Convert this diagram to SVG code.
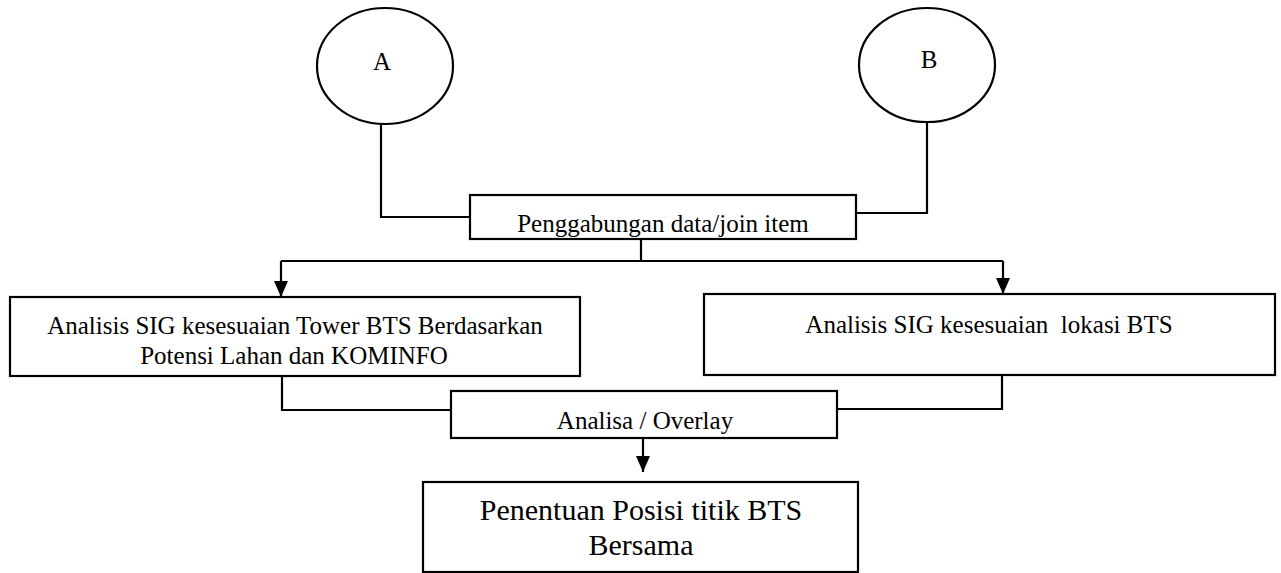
<svg xmlns="http://www.w3.org/2000/svg" width="1281" height="573" viewBox="0 0 1281 573">
<style>
.s{fill:#fff;stroke:#000;stroke-width:2.2}
.c{fill:none;stroke:#000;stroke-width:2.2}
.t{font-family:"Liberation Serif","Times New Roman",serif;fill:#000;text-anchor:middle;font-size:25px}
.b{font-size:30px}
</style>
<defs>
<marker id="ah" viewBox="0 0 16 14" refX="16" refY="7" markerWidth="16" markerHeight="14" orient="auto" markerUnits="userSpaceOnUse">
<path d="M0,0L16,7L0,14z" fill="#000"/>
</marker>
</defs>
<rect width="1281" height="573" fill="#fff"/>
<g id="connectors">
<polyline class="c" points="381,124 381,217 470,217"/>
<polyline class="c" points="927,122 927,213 856,213"/>
<line class="c" x1="641" y1="239" x2="641" y2="261"/>
<line class="c" x1="281" y1="261" x2="1003" y2="261"/>
<line class="c" x1="281" y1="261" x2="281" y2="297" marker-end="url(#ah)"/>
<line class="c" x1="1003" y1="261" x2="1003" y2="294" marker-end="url(#ah)"/>
<polyline class="c" points="282,376 282,410 451,410"/>
<polyline class="c" points="1002,375 1002,409 837,409"/>
<line class="c" x1="643" y1="438" x2="643" y2="472" marker-end="url(#ah)"/>
</g>
<g id="nodeA">
<ellipse class="s" cx="385" cy="66" rx="68" ry="58"/>
<text class="t" x="382" y="70" font-size="29">A</text>
</g>
<g id="nodeB">
<ellipse class="s" cx="927" cy="65" rx="68" ry="57"/>
<text class="t" x="929" y="68" font-size="29">B</text>
</g>
<g id="join">
<rect class="s" x="470" y="195" width="386" height="44"/>
<text class="t" x="663" y="232">Penggabungan data/join item</text>
</g>
<g id="sigLeft">
<rect class="s" x="10" y="297" width="570" height="79"/>
<text class="t" x="295" y="334">Analisis SIG kesesuaian Tower BTS Berdasarkan</text>
<text class="t" x="294" y="364">Potensi Lahan dan KOMINFO</text>
</g>
<g id="sigRight">
<rect class="s" x="704" y="294" width="571" height="81"/>
<text class="t" x="989" y="333" xml:space="preserve">Analisis SIG kesesuaian  lokasi BTS</text>
</g>
<g id="overlay">
<rect class="s" x="451" y="391" width="386" height="47"/>
<text class="t" x="645" y="429">Analisa / Overlay</text>
</g>
<g id="result">
<rect class="s" x="423" y="482" width="435" height="90"/>
<text class="t b" x="641" y="520">Penentuan Posisi titik BTS</text>
<text class="t b" x="641" y="555">Bersama</text>
</g>
</svg>
